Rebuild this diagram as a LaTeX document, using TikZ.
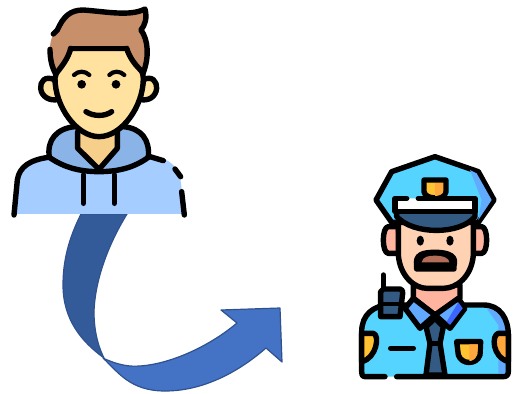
\documentclass[tikz,border=0pt]{standalone}
\usepackage{xcolor}
\definecolor{hoodLight}{RGB}{165,205,255}
\definecolor{hoodDark}{RGB}{138,180,232}
\definecolor{skinTone}{RGB}{255,225,160}
\definecolor{neckTone}{RGB}{246,207,139}
\definecolor{hairBrown}{RGB}{200,143,107}
\definecolor{arrowDark}{RGB}{52,91,153}
\definecolor{arrowLight}{RGB}{68,114,196}
\definecolor{arrowLine}{RGB}{47,82,143}
\definecolor{capBlue}{RGB}{85,212,255}
\definecolor{capShade}{RGB}{98,170,255}
\definecolor{badgeGold}{RGB}{255,194,51}
\definecolor{badgeOrange}{RGB}{255,166,60}
\definecolor{navyBlue}{RGB}{50,90,130}
\definecolor{faceTone}{RGB}{255,210,180}
\definecolor{earTone}{RGB}{255,180,160}
\definecolor{mouthBrown}{RGB}{178,110,88}
\definecolor{collarBlue}{RGB}{98,170,255}
\tikzset{
  ink/.style={line width=5.4pt, line cap=round, line join=round, draw=black},
  inkthin/.style={line width=4.2pt, line cap=round, line join=round, draw=black},
  ribbon/.style={draw=arrowLine, line width=1.2pt, line join=round}
}
\begin{document}
\begin{tikzpicture}[x=1pt,y=-1pt]
  \useasboundingbox (0,0) rectangle (518,393);

  % curved arrow
  \filldraw[ribbon, fill=arrowLight] (103,358) .. controls (118,372) and (130,391) .. (165,391)
    .. controls (200,391) and (235,375) .. (266,348) -- (282,362) -- (280,308) -- (221,310) -- (237,323)
    .. controls (205,350) and (160,368) .. (130,366) .. controls (120,365) and (112,362) .. (105,359) -- cycle;
  \filldraw[ribbon, fill=arrowDark] (81,214) .. controls (68,240) and (63,262) .. (63,285)
    .. controls (63,320) and (82,342) .. (104,358) .. controls (96,342) and (94,325) .. (94,312)
    .. controls (95,280) and (108,245) .. (127,214) -- cycle;

  % person
  \begin{scope}[x=0.3333pt,y=-0.3333pt]
    \fill[hoodLight] (48,642) -- (55,535) .. controls (60,500) and (90,480) .. (145,470) -- (450,470)
      -- (495,478) .. controls (530,495) and (542,520) .. (545,570) -- (550,642) -- cycle;
    \filldraw[ink, fill=hoodDark] (148,472) .. controls (140,420) and (170,385) .. (225,380) -- (370,380)
      .. controls (425,385) and (450,420) .. (445,472) .. controls (400,505) and (350,515) .. (297,515)
      .. controls (245,515) and (195,505) .. (148,472) -- cycle;
    \filldraw[ink, fill=neckTone] (233,395) -- (233,445) -- (297,508) -- (352,445) -- (352,395);
    \draw[ink] (42,645) -- (52,540) .. controls (58,500) and (90,480) .. (145,472);
    \draw[ink] (450,470) -- (490,482);
    \draw[ink] (525,507) -- (542,530);
    \draw[ink] (545,575) -- (553,645);
    \draw[ink] (250,525) -- (250,610);
    \draw[ink] (343,525) -- (343,610);
    \filldraw[ink, fill=skinTone] (165,240) .. controls (135,225) and (120,245) .. (122,265)
      .. controls (124,290) and (150,305) .. (175,298) -- cycle;
    \filldraw[ink, fill=skinTone] (430,240) .. controls (455,225) and (472,245) .. (470,265)
      .. controls (468,290) and (445,305) .. (420,298) -- cycle;
    \filldraw[ink, fill=skinTone] (212,145) -- (380,145) .. controls (395,185) and (430,200) .. (430,235)
      .. controls (430,320) and (365,410) .. (297,410) .. controls (230,410) and (165,320) .. (165,235)
      .. controls (170,200) and (200,185) .. (212,145) -- cycle;
    \fill[hairBrown] (152,125) .. controls (170,60) and (205,30) .. (250,30)
      .. controls (320,35) and (390,50) .. (435,27) .. controls (442,55) and (435,75) .. (423,90)
      .. controls (445,120) and (448,170) .. (430,218) .. controls (405,195) and (390,175) .. (380,145)
      -- (212,145) .. controls (205,175) and (185,200) .. (167,222) .. controls (155,190) and (145,160) .. (152,125) -- cycle;
    \draw[ink] (160,102) -- (172,90) .. controls (190,50) and (210,30) .. (250,30)
      .. controls (320,35) and (390,50) .. (435,27) .. controls (442,55) and (435,75) .. (423,90)
      .. controls (445,120) and (448,170) .. (430,218);
    \draw[ink] (150,148) .. controls (150,175) and (155,200) .. (167,222);
    \draw[ink] (212,145) .. controls (205,175) and (185,200) .. (167,222);
    \draw[ink] (380,145) .. controls (390,175) and (405,195) .. (430,218);
    \draw[ink] (212,145) -- (380,145);
    \draw[inkthin] (222,225) .. controls (235,212) and (255,212) .. (268,225);
    \draw[inkthin] (328,225) .. controls (340,212) and (360,212) .. (373,225);
    \fill (245,253) circle (13);
    \fill (348,253) circle (13);
    \draw[ink] (258,335) .. controls (280,350) and (315,350) .. (335,335);
  \end{scope}

  % officer
  \begin{scope}[shift={(350,145)},x=0.3333pt,y=-0.3333pt]
    \fill[capBlue] (35,695) -- (35,560) .. controls (35,510) and (70,480) .. (120,480)
      -- (400,480) .. controls (450,480) and (475,520) .. (475,570) -- (475,695) -- cycle;
    \fill[capShade] (410,490) .. controls (450,495) and (468,530) .. (468,570) -- (468,685) -- (445,685) -- (445,540) -- cycle;
    \draw[ink] (105,695) -- (45,695) .. controls (35,695) and (35,685) .. (35,680) -- (35,560)
      .. controls (35,510) and (70,480) .. (120,480) -- (400,480) .. controls (450,480) and (475,520) .. (475,570)
      -- (475,680) .. controls (475,690) and (470,695) .. (460,695) -- (140,695);
    \filldraw[ink, fill=badgeGold] (35,565) -- (70,565) .. controls (90,570) and (80,640) .. (35,650) -- cycle;
    \filldraw[ink, fill=badgeOrange] (475,565) -- (445,565) .. controls (425,570) and (425,635) .. (475,650) -- cycle;
    \filldraw[ink, fill=earTone] (145,245) -- (115,245) .. controls (95,245) and (95,325) .. (115,325) -- (150,325) -- cycle;
    \filldraw[ink, fill=earTone] (365,245) -- (395,245) .. controls (415,245) and (415,325) .. (395,325) -- (360,325) -- cycle;
    \filldraw[ink, fill=earTone] (190,420) -- (190,460) -- (255,510) -- (330,460) -- (330,420) -- cycle;
    \filldraw[ink, fill=faceTone] (145,225) -- (145,330) .. controls (150,395) and (195,430) .. (230,430)
      -- (280,430) .. controls (320,430) and (365,395) .. (370,330) -- (370,225) -- cycle;
    \filldraw[ink, fill=capBlue] (255,35) -- (385,80) -- (432,165) -- (385,232) -- (125,232) -- (78,165) -- (125,80) -- cycle;
    \fill[capShade] (360,75) -- (380,85) -- (425,165) -- (385,225) -- (395,165) -- cycle;
    \filldraw[ink, fill=navyBlue] (140,195) -- (375,195) -- (375,215) .. controls (330,270) and (190,270) .. (140,215) -- cycle;
    \filldraw[ink, fill=white] (205,160) -- (375,160) -- (375,200) -- (135,200) -- (135,160) -- (170,160);
    \filldraw[ink, fill=badgeGold] (222,105) -- (288,105) -- (288,140) .. controls (285,165) and (225,165) .. (222,140) -- cycle;
    \fill[badgeOrange] (255,114) rectangle (280,140);
    \fill[badgeOrange] (255,140) -- (280,140) .. controls (278,150) and (262,153) .. (255,153) -- cycle;
    \fill (211,287) ellipse (11 and 15);
    \fill (300,287) ellipse (11 and 15);
    \filldraw[ink, fill=black] (200,362) .. controls (195,330) and (215,322) .. (255,322)
      .. controls (300,322) and (320,335) .. (312,362) -- (312,372) -- (200,372) -- cycle;
    \fill[mouthBrown] (215,352) .. controls (218,335) and (235,332) .. (255,332)
      .. controls (280,332) and (298,340) .. (298,352) -- cycle;
    \filldraw[ink, fill=collarBlue] (190,460) -- (255,510) -- (210,550) -- (165,490) -- cycle;
    \filldraw[ink, fill=collarBlue] (325,460) -- (255,510) -- (300,550) -- (345,490) -- cycle;
    \fill[capShade!60!blue] (325,472) -- (338,490) -- (300,540) -- (290,530) -- cycle;
    \filldraw[ink, fill=navyBlue] (255,520) -- (280,545) -- (270,595) -- (285,690) -- (228,690) -- (240,595) -- (228,545) -- cycle;
    \draw[ink] (240,595) -- (270,595);
    \draw[ink] (122,610) -- (190,610);
    \draw[ink] (100,390) -- (100,430);
    \filldraw[ink, fill=navyBlue] (100,432) -- (150,432) .. controls (158,432) and (158,440) .. (158,445) -- (150,515) -- (92,515) -- (92,440) -- cycle;
    \draw[inkthin] (95,478) -- (155,478);
    \filldraw[ink, fill=badgeGold] (320,590) -- (392,590) -- (390,630) .. controls (380,660) and (335,660) .. (325,630) -- cycle;
    \fill[badgeOrange] (358,598) -- (384,598) -- (382,628) .. controls (376,645) and (365,648) .. (358,648) -- cycle;
  \end{scope}
\end{tikzpicture}
\end{document}
